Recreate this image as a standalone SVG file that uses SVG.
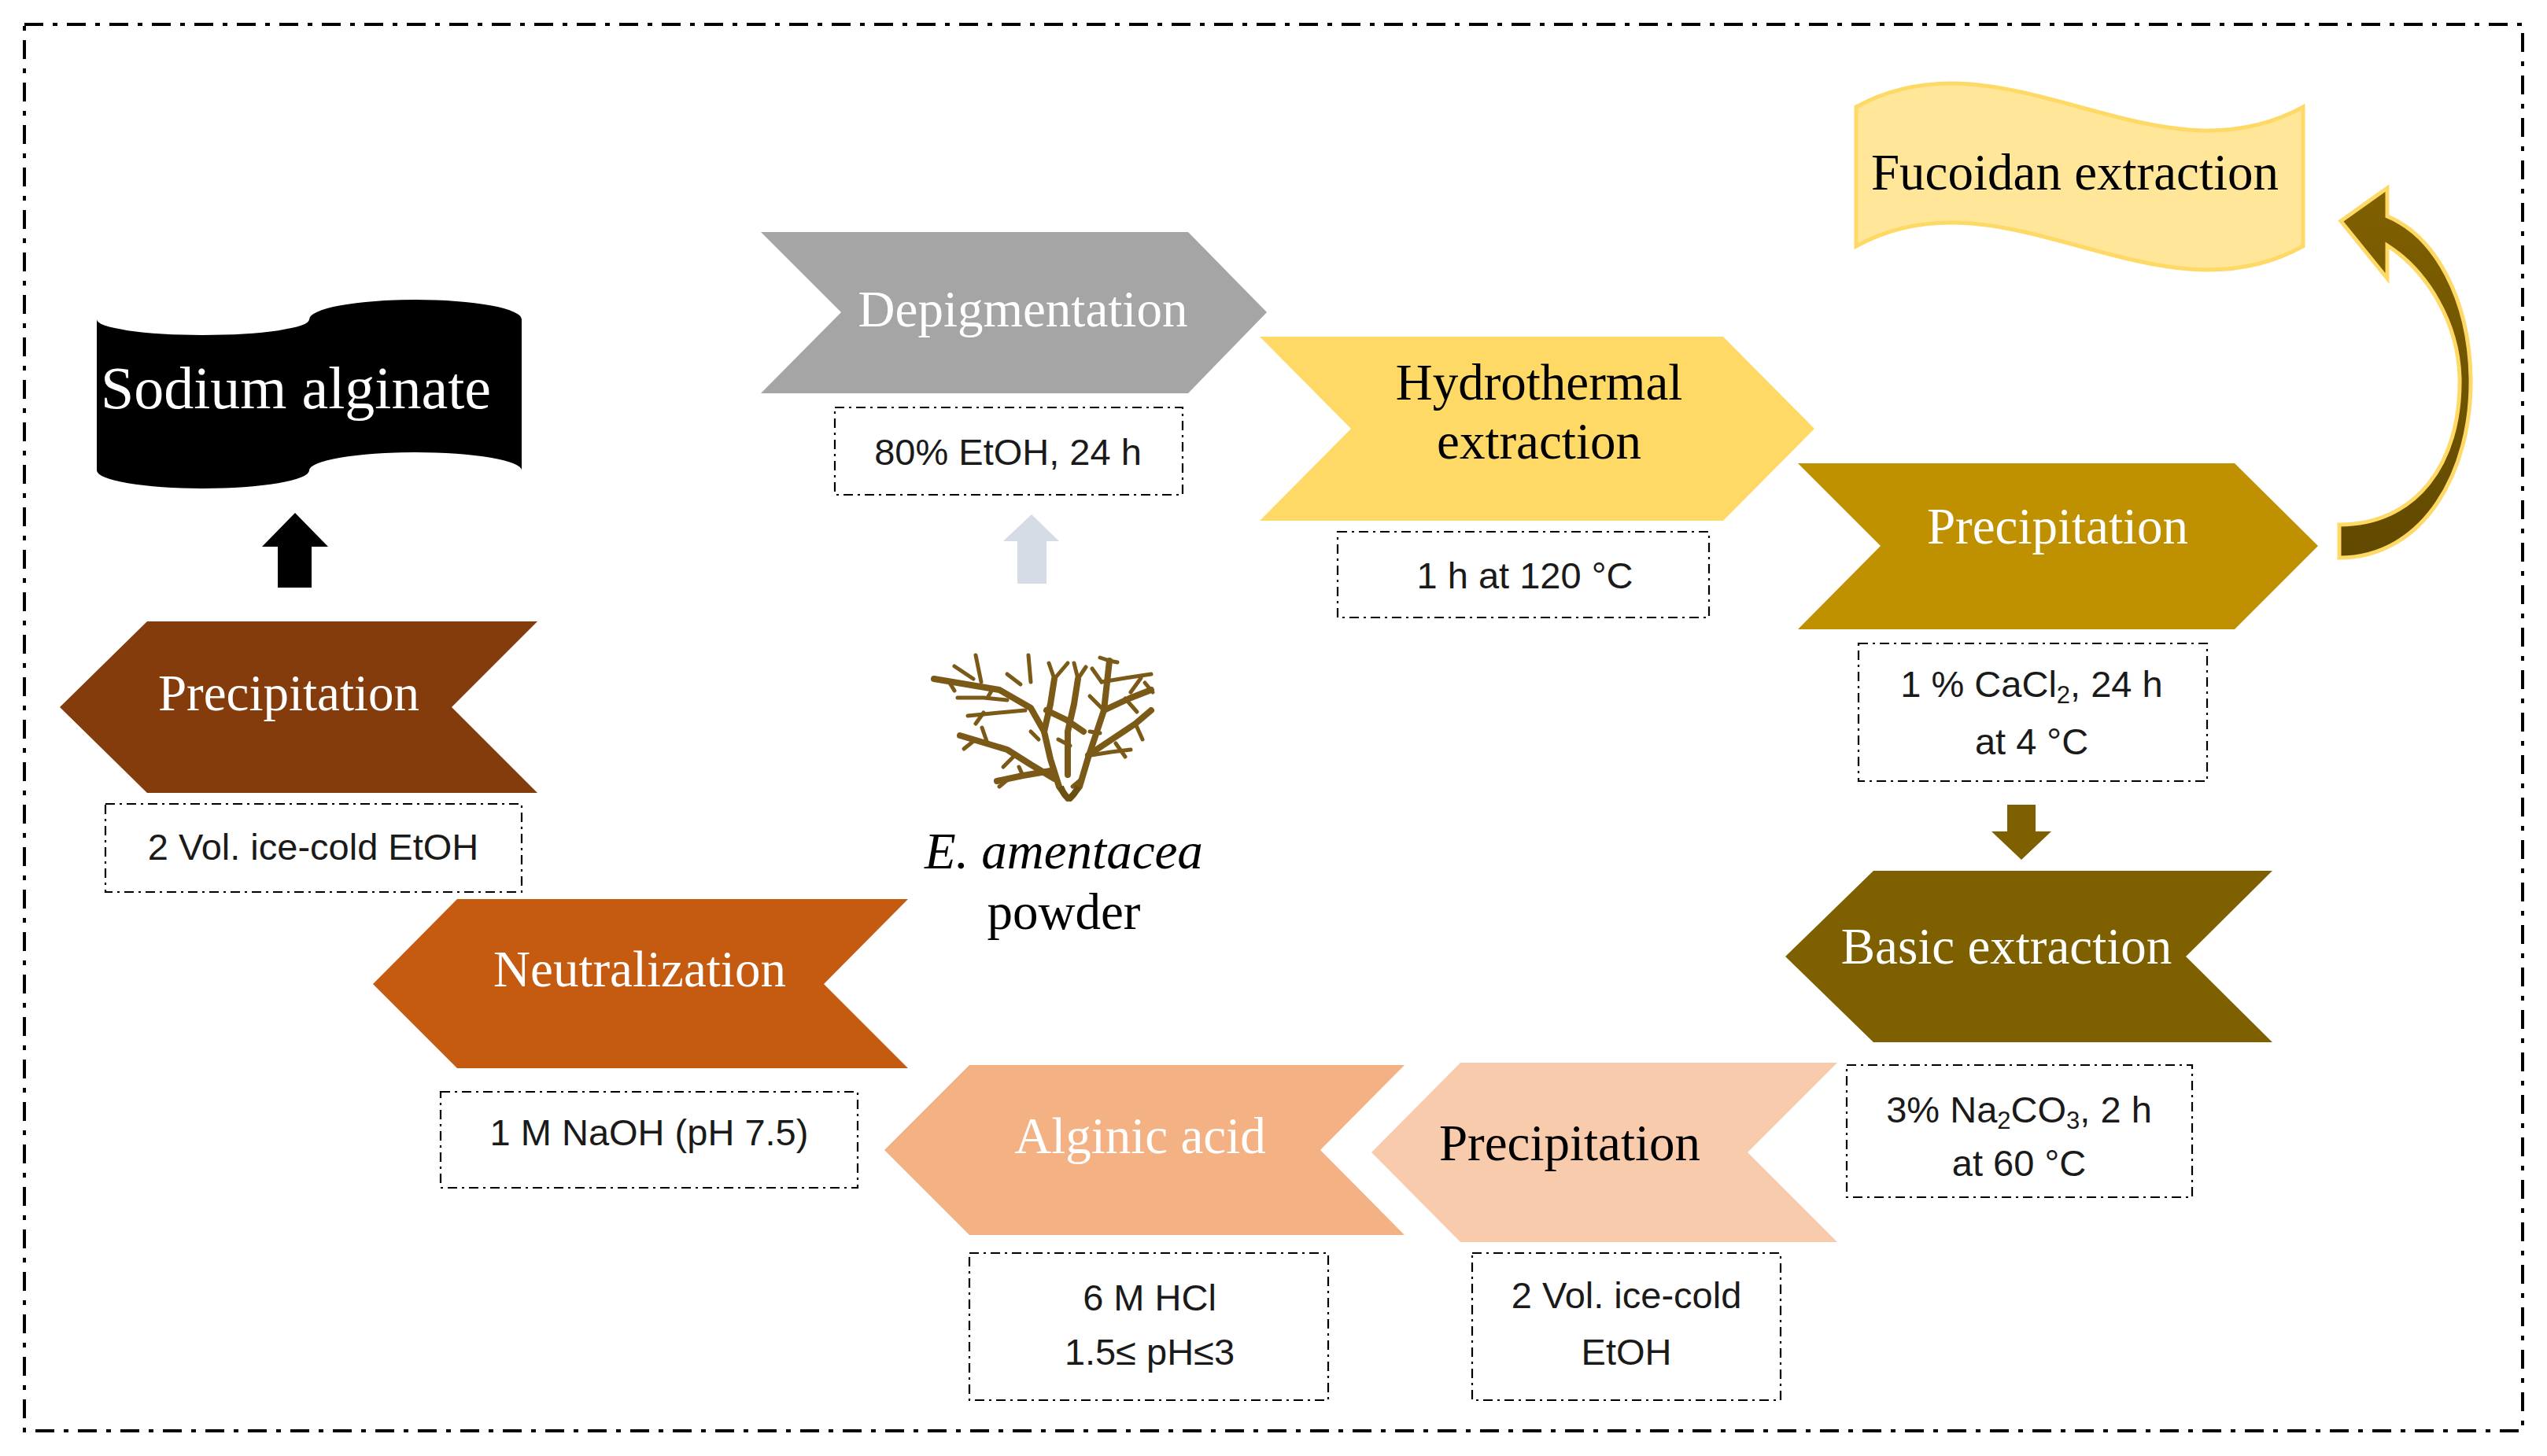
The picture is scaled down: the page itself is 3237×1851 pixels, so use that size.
<svg xmlns="http://www.w3.org/2000/svg" width="3237" height="1851" viewBox="0 0 3237 1851">
<style>
.lbl{font-family:"Liberation Serif","Times New Roman",serif;font-size:65px;text-anchor:middle}
.w{fill:#ffffff}
.k{fill:#000000}
.note{font-family:"Liberation Sans",Arial,sans-serif;font-size:47px;text-anchor:middle;fill:#1a1a1a}
.box{fill:#ffffff;stroke:#000000;stroke-width:2.2;stroke-dasharray:12 6 3 6}
.sub{font-size:31px}
.weed{fill:none;stroke:#7b5a18;stroke-linecap:round;stroke-linejoin:round}
</style>
<defs>
<linearGradient id="cg" x1="0" y1="0" x2="0" y2="1">
<stop offset="0" stop-color="#806000"/>
<stop offset="1" stop-color="#614900"/>
</linearGradient>
</defs>
<rect id="frame" x="31" y="31" width="3175" height="1788" fill="none" stroke="#000000" stroke-width="4" stroke-dasharray="24 12 6 12"/>

<g id="connectors">
<polygon id="arr-sodium" points="375,652 417,695 396,695 396,747 353,747 353,695 333,695" fill="#000000"/>
<polygon id="arr-powder" points="1311,654 1346,688 1330,688 1330,742 1293,742 1293,688 1275,688" fill="#D6DCE5"/>
<polygon id="arr-basic" points="2551,1023 2587,1023 2587,1057 2607,1057 2569,1093 2531,1057 2551,1057" fill="#7F6000"/>
<path id="arr-fucoidan" d="M2973,709 C3080,709 3142,600 3140,480 C3138,380 3095,300 3034,275 L3034,239 L2975,281 L3034,354 L3034,312 C3085,345 3124,410 3126,480 C3128,590 3070,667 2973,667 Z" fill="url(#cg)" stroke="#FFD966" stroke-width="5" stroke-linejoin="miter"/>
</g>

<g id="node-sodium-alginate">
<path d="M123,406 A135,20 0 0 0 393,406 A135,25 0 0 1 663,406 L663,598 A135,23 0 0 0 393,598 A135,23 0 0 1 123,598 Z" fill="#000000"/>
<text class="lbl w" x="376" y="519" style="font-size:76px">Sodium alginate</text>
</g>

<g id="node-precipitation-final">
<polygon points="187,790 683,790 574,899 683,1008 187,1008 76,899" fill="#843C0C"/>
<text class="lbl w" x="367" y="903">Precipitation</text>
</g>
<g id="note-precipitation-final">
<rect class="box" x="134" y="1022" width="529" height="112"/>
<text class="note" x="398" y="1093">2 Vol. ice-cold EtOH</text>
</g>

<g id="node-depigmentation">
<polygon points="967,295 1510,295 1610,397 1510,500 967,500 1069,397" fill="#A5A5A5"/>
<text class="lbl w" x="1300" y="415">Depigmentation</text>
</g>
<g id="note-depigmentation">
<rect class="box" x="1061" y="518" width="442" height="111"/>
<text class="note" x="1281" y="591">80% EtOH, 24 h</text>
</g>

<g id="node-hydrothermal">
<polygon points="1601,428 2190,428 2306,545 2190,662 1601,662 1717,545" fill="#FFD966"/>
<text class="lbl k" x="1956" y="508">Hydrothermal</text>
<text class="lbl k" x="1956" y="583">extraction</text>
</g>
<g id="note-hydrothermal">
<rect class="box" x="1700" y="676" width="472" height="109"/>
<text class="note" x="1938" y="748">1 h at 120 °C</text>
</g>

<g id="node-fucoidan">
<path d="M2359,136 C2548,32 2738,240 2927,136 L2927,313 C2738,417 2548,209 2359,313 Z" fill="#FFE699" stroke="#FFD966" stroke-width="5"/>
<text class="lbl k" x="2637" y="241">Fucoidan extraction</text>
</g>

<g id="node-precipitation-cacl2">
<polygon points="2285,589 2840,589 2946,694 2840,800 2285,800 2390,694" fill="#BF9000"/>
<text class="lbl w" x="2615" y="691">Precipitation</text>
</g>
<g id="note-precipitation-cacl2">
<rect class="box" x="2362" y="818" width="443" height="175"/>
<text class="note" x="2582" y="886">1 % CaCl<tspan class="sub" dy="8">2</tspan><tspan dy="-8">, 24 h</tspan></text>
<text class="note" x="2582" y="959">at 4 °C</text>
</g>

<g id="node-basic-extraction">
<polygon points="2381,1107 2888,1107 2778,1216 2888,1325 2381,1325 2269,1216" fill="#7F6000"/>
<text class="lbl w" x="2550" y="1225">Basic extraction</text>
</g>
<g id="note-basic-extraction">
<rect class="box" x="2347" y="1354" width="439" height="168"/>
<text class="note" x="2566" y="1427">3% Na<tspan class="sub" dy="8">2</tspan><tspan dy="-8">CO</tspan><tspan class="sub" dy="8">3</tspan><tspan dy="-8">, 2 h</tspan></text>
<text class="note" x="2566" y="1495">at 60 °C</text>
</g>

<g id="node-precipitation-etoh">
<polygon points="1856,1351 2335,1351 2221,1465 2335,1579 1856,1579 1743,1465" fill="#F8CBAD"/>
<text class="lbl k" x="1995" y="1475">Precipitation</text>
</g>
<g id="note-precipitation-etoh">
<rect class="box" x="1871" y="1593" width="392" height="187"/>
<text class="note" x="2067" y="1663">2 Vol. ice-cold</text>
<text class="note" x="2067" y="1735">EtOH</text>
</g>

<g id="node-alginic-acid">
<polygon points="1232,1354 1785,1354 1678,1462 1785,1570 1232,1570 1124,1462" fill="#F4B183"/>
<text class="lbl w" x="1449" y="1466">Alginic acid</text>
</g>
<g id="note-alginic-acid">
<rect class="box" x="1232" y="1593" width="456" height="187"/>
<text class="note" x="1461" y="1666">6 M HCl</text>
<text class="note" x="1461" y="1735">1.5≤ pH≤3</text>
</g>

<g id="node-neutralization">
<polygon points="581,1143 1154,1143 1047,1251 1154,1358 581,1358 474,1251" fill="#C55A11"/>
<text class="lbl w" x="813" y="1254">Neutralization</text>
</g>
<g id="note-neutralization">
<rect class="box" x="560" y="1388" width="530" height="122"/>
<text class="note" x="825" y="1456">1 M NaOH (pH 7.5)</text>
</g>

<g id="node-powder">
<g class="weed" stroke-width="8">
<path d="M1357,1015 L1346,1000 L1335,965 L1327,930 L1310,900 L1270,877 L1187,863"/>
<path d="M1360,1015 L1372,1000 L1383,963 L1403,903 L1410,840"/>
<path d="M1340,990 L1310,972 L1280,953 L1220,935"/>
<path d="M1327,930 L1335,895 L1340,863"/>
<path d="M1357,985 L1357,930 L1365,895 L1370,863"/>
<path d="M1383,960 L1443,920 L1463,903"/>
<path d="M1403,903 L1435,888 L1463,877"/>
<path d="M1330,903 L1355,915 L1377,930"/>
<path d="M1335,980 L1300,986 L1267,993"/>
</g>
<g class="weed" stroke-width="5">
<path d="M1230,910 L1270,906 L1303,903"/>
<path d="M1217,887 L1250,887 L1280,890"/>
<path d="M1240,833 L1247,867"/>
<path d="M1213,847 L1237,863"/>
<path d="M1307,833 L1310,867"/>
<path d="M1280,857 L1297,870"/>
<path d="M1340,863 L1333,843"/>
<path d="M1340,863 L1357,843"/>
<path d="M1370,863 L1365,843"/>
<path d="M1370,863 L1380,848"/>
<path d="M1410,840 L1398,836"/>
<path d="M1410,840 L1420,842"/>
<path d="M1400,867 L1430,862 L1463,857"/>
<path d="M1387,960 L1412,956 L1437,953"/>
<path d="M1400,867 L1388,850"/>
<path d="M1403,903 L1385,885"/>
<path d="M1443,920 L1452,940"/>
<path d="M1430,888 L1445,905"/>
<path d="M1437,880 L1450,862"/>
<path d="M1255,945 L1248,925"/>
<path d="M1240,940 L1225,952"/>
<path d="M1290,960 L1275,975"/>
<path d="M1300,986 L1295,975"/>
<path d="M1282,990 L1270,1000"/>
<path d="M1250,906 L1240,920"/>
<path d="M1255,887 L1262,875"/>
<path d="M1205,865 L1213,878"/>
<path d="M1320,940 L1310,930"/>
<path d="M1345,940 L1360,948"/>
<path d="M1385,930 L1398,932"/>
<path d="M1455,868 L1465,880"/>
<path d="M1418,945 L1430,962"/>
<path d="M1363,1000 L1375,990"/>
</g>
<path d="M1348,1000 Q1358,1028 1370,1000" fill="none" stroke="#6b4e12" stroke-width="8"/>
<text class="lbl k" x="1352" y="1104" font-style="italic">E. amentacea</text>
<text class="lbl k" x="1352" y="1181">powder</text>
</g>
</svg>
